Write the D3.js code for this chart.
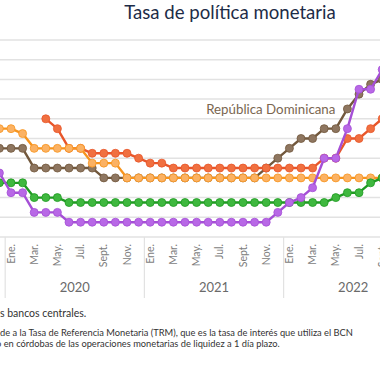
<!DOCTYPE html>
<html>
<head>
<meta charset="utf-8">
<script src="https://cdn.jsdelivr.net/npm/d3@7"></script>
<style>
  html, body { margin: 0; padding: 0; background: #ffffff; }
  svg { display: block; }
</style>
</head>
<body>
<script>
// ---- Data (monthly, Dec 2019 .. Sep 2022; index -1 = Dec 2019) ----
const startIndex = -1;
const republicaDominicana = [4.5, 4.5, 4.5, 3.5, 3.5, 3.5, 3.5, 3.5, 3.5,
  3.0, 3.0, 3.0, 3.0, 3.0, 3.0, 3.0, 3.0, 3.0, 3.0, 3.0, 3.0, 3.0, 3.0,
  3.5, 4.0, 4.5, 5.0, 5.0, 5.5, 5.5, 6.5, 7.25, 7.75, 8.0];
const nicaragua = [null, null, null, null, 6.0, 5.5, 4.5, 4.5,
  4.25, 4.25, 4.25, 4.25, 4.0, 3.75, 3.75,
  3.5, 3.5, 3.5, 3.5, 3.5, 3.5, 3.5, 3.5, 3.5, 3.5, 3.5, 3.5, 3.5,
  4.0, 4.0, 5.0, 5.0, 5.5, 6.0];
const honduras = [5.5, 5.5, 5.25, 4.5, 4.5, 4.5, 4.5, 4.5, 3.75, 3.75, 3.75,
  3.0, 3.0, 3.0, 3.0, 3.0, 3.0, 3.0, 3.0, 3.0, 3.0, 3.0, 3.0, 3.0, 3.0,
  3.0, 3.0, 3.0, 3.0, 3.0, 3.0, 3.0, 3.0, 3.0];
const guatemala = [2.75, 2.75, 2.75, 2.0, 2.0, 2.0,
  1.75, 1.75, 1.75, 1.75, 1.75, 1.75, 1.75, 1.75, 1.75, 1.75, 1.75, 1.75,
  1.75, 1.75, 1.75, 1.75, 1.75, 1.75, 1.75, 1.75, 1.75, 1.75, 1.75,
  2.0, 2.25, 2.25, 2.75, 3.0];
const costaRica = [3.25, 2.25, 2.25, 1.25, 1.25, 1.25,
  0.75, 0.75, 0.75, 0.75, 0.75, 0.75, 0.75, 0.75, 0.75, 0.75, 0.75, 0.75,
  0.75, 0.75, 0.75, 0.75, 0.75, 0.75,
  1.25, 1.75, 2.0, 2.5, 4.0, 4.0, 5.5, 7.5, 7.5, 8.5];

const monthTickLabels = ["Ene.", "Mar.", "May.", "Jul.", "Sept.", "Nov."];
const monthTickOffsets = [0, 2, 4, 6, 8, 10];
const yearLabels = ["2020", "2021", "2022"];
const yGridValues = [0, 1, 2, 3, 4, 5, 6, 7, 8, 9, 10];

const titleText = "Tasa de política monetaria";
const seriesLabel = "República Dominicana";
const notes = [
  "s bancos centrales.",
  "de a la Tasa de Referencia Monetaria (TRM), que es la tasa de interés que utiliza el BCN",
  "o en córdobas de las operaciones monetarias de liquidez a 1 día plazo."
];

const seriesList = [
  { name: "República Dominicana", values: republicaDominicana, line: "#72583c", fill: "#8e7660" },
  { name: "Nicaragua", values: nicaragua, line: "#e8562a", fill: "#f07040" },
  { name: "Honduras", values: honduras, line: "#f7941d", fill: "#fbb264" },
  { name: "Guatemala", values: guatemala, line: "#1f9a22", fill: "#3fb83f" },
  { name: "Costa Rica", values: costaRica, line: "#a54fd6", fill: "#b868e6" }
];

// ---- Layout ----
const W = 380, H = 380;
const svg = d3.select("body").append("svg").attr("width", W).attr("height", H);

const x = d3.scaleLinear().domain([0, 35]).range([11, 417]);
const y = d3.scaleLinear().domain([0, 10]).range([237, 40]);

// gridlines
svg.append("g").selectAll("line").data(yGridValues).join("line")
  .attr("x1", 0).attr("x2", W)
  .attr("y1", d => y(d)).attr("y2", d => y(d))
  .attr("stroke", "#e2e2e2").attr("stroke-width", 1.5);

// year separators
svg.append("g").selectAll("line").data([0, 1, 2, 3]).join("line")
  .attr("x1", d => x(d * 12 - 0.5)).attr("x2", d => x(d * 12 - 0.5))
  .attr("y1", y(0)).attr("y2", 298)
  .attr("stroke", "#e2e2e2").attr("stroke-width", 1.2);

// month tick labels
const ticks = [];
yearLabels.forEach((yr, yi) => monthTickLabels.forEach((lab, mi) =>
  ticks.push({ i: yi * 12 + monthTickOffsets[mi], label: lab })));
svg.append("g").selectAll("text").data(ticks).join("text")
  .attr("transform", d => `translate(${x(d.i)},244) rotate(-90)`)
  .attr("text-anchor", "end").attr("dy", "0.35em")
  .attr("font-family", "Lato, 'Noto Sans', sans-serif").attr("font-size", 10.5)
  .attr("fill", "#7d7d7d")
  .text(d => d.label);

// year labels
svg.append("g").selectAll("text").data(yearLabels).join("text")
  .attr("x", (d, i) => x(i * 12 + 5.5)).attr("y", 292)
  .attr("text-anchor", "middle")
  .attr("font-family", "Lato, 'Noto Sans', sans-serif").attr("font-size", 13)
  .attr("fill", "#6a6a6a")
  .text(d => d);

// series
const line = d3.line()
  .defined(d => d.v != null)
  .x(d => x(d.i)).y(d => y(d.v));

seriesList.forEach(s => {
  const pts = s.values.map((v, k) => ({ i: k + startIndex, v }));
  const g = svg.append("g");
  g.append("path").datum(pts)
    .attr("d", line).attr("fill", "none")
    .attr("stroke", s.line).attr("stroke-width", 2.4)
    .attr("stroke-linejoin", "round");
  g.selectAll("circle").data(pts.filter(d => d.v != null)).join("circle")
    .attr("cx", d => x(d.i)).attr("cy", d => y(d.v)).attr("r", 4)
    .attr("fill", s.fill).attr("stroke", s.line).attr("stroke-width", 0.8);
});

// series label
svg.append("text")
  .attr("x", x(29) - 12).attr("y", y(6.5) + 5)
  .attr("text-anchor", "end")
  .attr("font-family", "Lato, 'Noto Sans', sans-serif").attr("font-size", 13.3)
  .attr("fill", "#7a6650")
  .text(seriesLabel);

// title
svg.append("text")
  .attr("x", 230).attr("y", 18.5)
  .attr("text-anchor", "middle")
  .attr("font-family", "Lato, 'Noto Sans', sans-serif").attr("font-size", 18.6)
  .attr("fill", "#1d2c47")
  .text(titleText);

// notes
svg.append("text").attr("x", 0).attr("y", 317)
  .attr("font-family", "Lato, 'Noto Sans', sans-serif").attr("font-size", 10.5)
  .attr("fill", "#333").text(notes[0]);
svg.append("text").attr("x", 0).attr("y", 336)
  .attr("font-family", "Lato, 'Noto Sans', sans-serif").attr("font-size", 9.3)
  .attr("fill", "#333").text(notes[1]);
svg.append("text").attr("x", -4).attr("y", 347)
  .attr("font-family", "Lato, 'Noto Sans', sans-serif").attr("font-size", 9.3)
  .attr("fill", "#333").text(notes[2]);
</script>
</body>
</html>
